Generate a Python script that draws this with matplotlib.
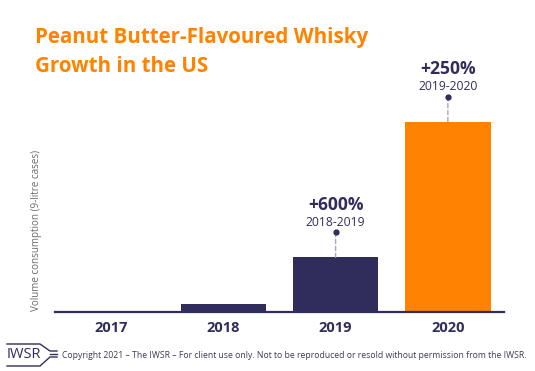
import matplotlib
matplotlib.use('Agg')
import matplotlib.pyplot as plt
from matplotlib.transforms import offset_copy

years = ['2017', '2018', '2019', '2020']
volumes = [0, 10, 70, 245]
bar_colors = ['#302d5c', '#302d5c', '#302d5c', '#ff8200']
growth_idx = [2, 3]
growth_pct = ['+600%', '+250%']
growth_span = ['2018-2019', '2019-2020']

navy = '#302d5c'
orange = '#ff8200'

plt.rcParams['font.family'] = ['Open Sans', 'DejaVu Sans']

fig = plt.figure(figsize=(5.35, 3.71), dpi=100)
ax = fig.add_axes([55 / 535, 59.3 / 371, 449 / 535, 251.7 / 371])

x = list(range(len(years)))
ax.bar(x, volumes, width=0.76, color=bar_colors, zorder=2)
ax.set_xlim(-0.5, 3.5)
ax.set_ylim(0, 324.6)

for s in ['top', 'right', 'left']:
    ax.spines[s].set_visible(False)
ax.spines['bottom'].set_color(navy)
ax.spines['bottom'].set_linewidth(1.6)
ax.set_yticks([])
ax.set_xticks(x)
ax.set_xticklabels(years, fontsize=10.5, fontweight='bold', color=navy)
ax.tick_params(axis='x', length=0, pad=7)

for i, pct, span in zip(growth_idx, growth_pct, growth_span):
    v = volumes[i]
    ax.annotate('', xy=(i, v), xytext=(0, 18), textcoords='offset points',
                arrowprops=dict(arrowstyle='-', linestyle=(0, (3, 2)), color='#a8a6bc',
                                linewidth=1, shrinkA=0, shrinkB=0))
    ax.plot([i], [v], 'o', color=navy, markersize=3.5,
            transform=offset_copy(ax.transData, fig=fig, y=18, units='points'), zorder=3)
    ax.annotate(span, xy=(i, v), xytext=(0, 22.8), textcoords='offset points',
                ha='center', va='baseline', fontsize=8.7, color=navy)
    ax.annotate(pct, xy=(i, v), xytext=(0, 34.3), textcoords='offset points',
                ha='center', va='baseline', fontsize=12.6, fontweight='bold', color=navy)

fig.text(35 / 535, 1 - 38 / 371, 'Peanut Butter-Flavoured Whisky', fontsize=14.8,
         fontweight='bold', color=orange, va='center', ha='left')
fig.text(35 / 535, 1 - 67 / 371, 'Growth in the US', fontsize=14.8,
         fontweight='bold', color=orange, va='center', ha='left')

fig.text(37 / 535, 1 - 230 / 371, 'Volume consumption (9-litre cases)', rotation=90,
         fontsize=7.1, color='#6b6b6b', ha='center', va='center')

# footer logo
fig.text(7 / 535, 1 - 355 / 371, 'IWSR', fontsize=10.5, color=navy, ha='left', va='center')
logo_x = [7, 40, 50, 57]
fig.add_artist(plt.Line2D([v / 535 for v in logo_x],
                          [1 - y / 371 for y in [344, 344, 351, 351]], color=navy, lw=1))
fig.add_artist(plt.Line2D([v / 535 for v in logo_x],
                          [1 - y / 371 for y in [366, 366, 357, 357]], color=navy, lw=1))
fig.add_artist(plt.Line2D([50 / 535, 57 / 535], [1 - 354 / 371] * 2, color=navy, lw=1))
fig.text(62 / 535, 1 - 355 / 371,
         'Copyright 2021 \u2013 The IWSR \u2013 For client use only. Not to be reproduced or resold without permission from the IWSR.',
         fontsize=6.2, color='#3c3b55', ha='left', va='center')

fig.savefig('out.png', dpi=100)
